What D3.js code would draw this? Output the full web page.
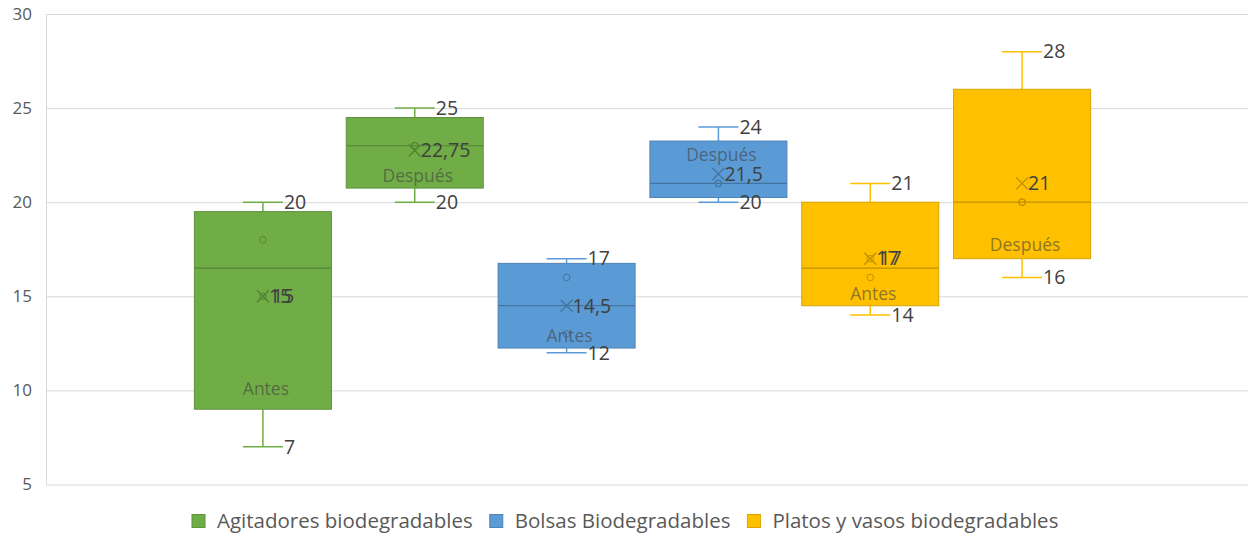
<!DOCTYPE html>
<html>
<head>
<meta charset="utf-8">
<script src="https://cdn.jsdelivr.net/npm/d3@7"></script>
<style>
  html, body { margin: 0; padding: 0; background: #fff; }
  svg { display: block; font-family: "Open Sans", "Noto Sans", sans-serif; }
</style>
</head>
<body>
<svg id="chart" width="1249" height="535"></svg>
<script>
// Raw observations for each product, before and after
const agitadoresAntes   = [7, 15, 18, 20];
const agitadoresDespues = [20, 23, 23, 25];
const bolsasAntes       = [12, 13, 16, 17];
const bolsasDespues     = [20, 21, 21, 24];
const platosAntes       = [14, 16, 17, 21];
const platosDespues     = [16, 20, 20, 28];

const seriesNames = ["Agitadores biodegradables", "Bolsas Biodegradables", "Platos y vasos biodegradables"];
const phaseNames  = ["Antes", "Después"];
const yTicks      = [5, 10, 15, 20, 25, 30];

const seriesColors = ["#70AD47", "#5B9BD5", "#FFC000"];

// Box list in drawing order
const boxes = [
  { series: 0, phase: 0, values: agitadoresAntes },
  { series: 0, phase: 1, values: agitadoresDespues },
  { series: 1, phase: 0, values: bolsasAntes },
  { series: 1, phase: 1, values: bolsasDespues },
  { series: 2, phase: 0, values: platosAntes },
  { series: 2, phase: 1, values: platosDespues }
];

// Where the phase name sits inside each box: anchored to a quartile edge, shifted in px
const phaseLabelPlacement = [
  { anchor: "q1", dy: -20 },
  { anchor: "q1", dy: -12 },
  { anchor: "q1", dy: -12 },
  { anchor: "q3", dy: 14 },
  { anchor: "q1", dy: -12 },
  { anchor: "q1", dy: -14 }
];

// Quartiles with the exclusive method (n+1 positions)
function quartileExc(sorted, p) {
  const n = sorted.length;
  const pos = p * (n + 1);
  const lo = Math.floor(pos);
  const frac = pos - lo;
  if (lo < 1) return sorted[0];
  if (lo >= n) return sorted[n - 1];
  return sorted[lo - 1] + frac * (sorted[lo] - sorted[lo - 1]);
}

boxes.forEach(b => {
  const s = b.values.slice().sort((a, c) => a - c);
  b.sorted = s;
  b.q1 = quartileExc(s, 0.25);
  b.median = quartileExc(s, 0.5);
  b.q3 = quartileExc(s, 0.75);
  b.mean = d3.mean(s);
  b.min = s[0];
  b.max = s[s.length - 1];
  b.inner = s.filter(v => v > b.min && v < b.max);
  b.key = seriesNames[b.series] + "|" + phaseNames[b.phase];
});

const fmt = v => String(+v.toFixed(2)).replace(".", ",");

const svg = d3.select("#chart");
const plot = { left: 46, right: 1248, top: 14, bottom: 484.5 };

const y = d3.scaleLinear().domain([5, 30]).range([plot.bottom, plot.top]);
const x = d3.scaleBand()
  .domain(boxes.map(b => b.key))
  .range([187, 1098])
  .paddingInner(0.0975)
  .paddingOuter(0.04875);

// Gridlines
const grid = svg.append("g")
  .attr("transform", `translate(${plot.left},0)`)
  .call(d3.axisLeft(y).tickValues(yTicks).tickSize(-(plot.right - plot.left)).tickFormat(""));
grid.select(".domain").remove();
grid.selectAll(".tick line").attr("stroke", "#d9d9d9").attr("stroke-width", 1);

// Left axis line and tick labels
svg.append("line")
  .attr("x1", plot.left + 0.5).attr("x2", plot.left + 0.5)
  .attr("y1", y(30)).attr("y2", y(5))
  .attr("stroke", "#d9d9d9");

const yAxis = svg.append("g")
  .attr("transform", `translate(${plot.left},0)`)
  .call(d3.axisLeft(y).tickValues(yTicks).tickSize(0).tickPadding(14));
yAxis.select(".domain").remove();
yAxis.selectAll("text")
  .attr("fill", "#595959")
  .style("font-size", "17px")
  .style("font-family", "'Open Sans', sans-serif");

const capHalf = 20;
const labelColor = "#404040";

const g = svg.append("g");

boxes.forEach((b, i) => {
  const base = seriesColors[b.series];
  const dark = d3.color(base).darker(0.45).formatHex();
  const darker = d3.color(base).darker(0.8).formatHex();
  const cx = x(b.key) + x.bandwidth() / 2;
  const bx = x(b.key);
  const bw = x.bandwidth();
  const grp = g.append("g");

  // Whiskers
  grp.append("line")
    .attr("x1", cx).attr("x2", cx)
    .attr("y1", y(b.max)).attr("y2", y(b.q3))
    .attr("stroke", base).attr("stroke-width", 1.5);
  grp.append("line")
    .attr("x1", cx).attr("x2", cx)
    .attr("y1", y(b.q1)).attr("y2", y(b.min))
    .attr("stroke", base).attr("stroke-width", 1.5);
  [b.max, b.min].forEach(v => {
    grp.append("line")
      .attr("x1", cx - capHalf).attr("x2", cx + capHalf)
      .attr("y1", y(v)).attr("y2", y(v))
      .attr("stroke", base).attr("stroke-width", 1.5);
  });

  // Box
  grp.append("rect")
    .attr("x", bx).attr("width", bw)
    .attr("y", y(b.q3)).attr("height", y(b.q1) - y(b.q3))
    .attr("fill", base)
    .attr("stroke", dark).attr("stroke-width", 1);

  // Median
  grp.append("line")
    .attr("x1", bx).attr("x2", bx + bw)
    .attr("y1", y(b.median)).attr("y2", y(b.median))
    .attr("stroke", darker).attr("stroke-width", 1.2);

  // Inner points
  b.inner.forEach(v => {
    grp.append("circle")
      .attr("cx", cx).attr("cy", y(v)).attr("r", 3.3)
      .attr("fill", "none").attr("stroke", darker).attr("stroke-width", 1);
  });

  // Mean marker
  const m = 6;
  grp.append("path")
    .attr("d", `M${cx - m},${y(b.mean) - m}L${cx + m},${y(b.mean) + m}M${cx - m},${y(b.mean) + m}L${cx + m},${y(b.mean) - m}`)
    .attr("stroke", darker).attr("stroke-width", 1.4).attr("fill", "none");

  // Value labels: whisker ends and mean
  const addLabel = (v, lx) => grp.append("text")
    .attr("x", lx).attr("y", y(v))
    .attr("dy", "0.35em")
    .attr("fill", labelColor)
    .style("font-size", "19.5px")
    .text(fmt(v));

  addLabel(b.max, cx + capHalf + 1);
  addLabel(b.min, cx + capHalf + 1);
  addLabel(b.mean, cx + 6);
  // A point sitting right on the mean gets its own label too
  b.inner.filter(v => v === b.mean).forEach(v => addLabel(v, cx + 9));

  // Phase name inside the box
  const pl = phaseLabelPlacement[i];
  grp.append("text")
    .attr("x", cx + 3)
    .attr("y", y(b[pl.anchor]) + pl.dy)
    .attr("dy", "0.35em")
    .attr("text-anchor", "middle")
    .attr("fill", "#404040")
    .attr("fill-opacity", 0.6)
    .style("font-size", "17.5px")
    .text(phaseNames[b.phase]);
});

// Legend
const legend = svg.append("g").attr("transform", "translate(192,521)");
let lx = 0;
seriesNames.forEach((name, i) => {
  const item = legend.append("g").attr("transform", `translate(${lx},0)`);
  item.append("rect")
    .attr("x", 0).attr("y", -6.5).attr("width", 13).attr("height", 13)
    .attr("fill", seriesColors[i])
    .attr("stroke", d3.color(seriesColors[i]).darker(0.45).formatHex());
  const t = item.append("text")
    .attr("x", 25).attr("y", 0).attr("dy", "0.35em")
    .attr("fill", "#595959")
    .style("font-size", "20.5px")
    .text(name);
  lx += 25 + t.node().getComputedTextLength() + 17;
});
</script>
</body>
</html>
